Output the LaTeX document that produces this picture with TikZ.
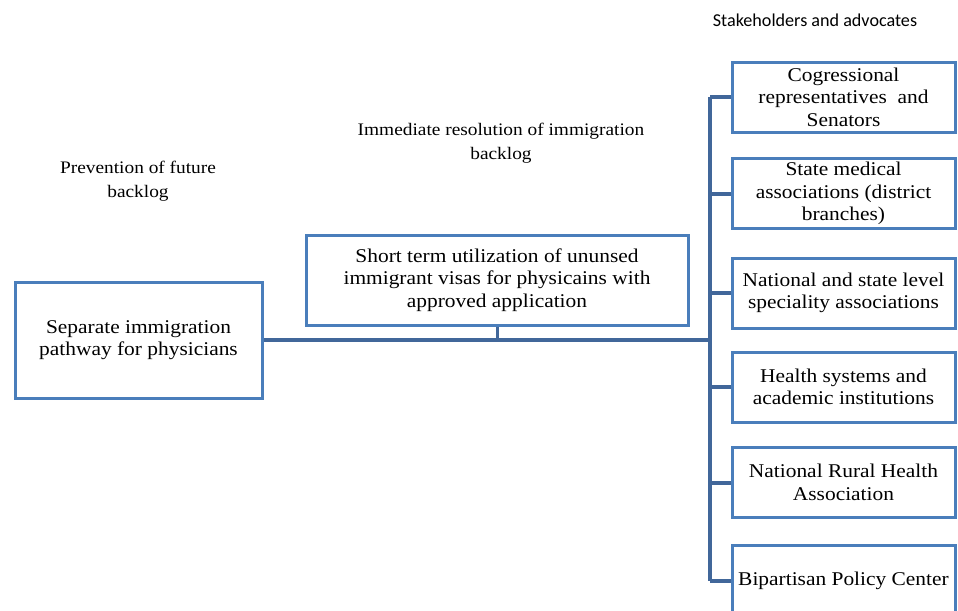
\documentclass[tikz,border=0pt]{standalone}
\usepackage{fontspec}
\setmainfont{Liberation Serif}[FakeStretch=1.1]
\newfontfamily\calib{Carlito}
\definecolor{boxcol}{HTML}{4A7EBB}
\definecolor{linecol}{HTML}{41679A}
\begin{document}
\begin{tikzpicture}[x=0.75pt,y=-0.75pt,
  box/.style={draw=boxcol,line width=2.25pt,fill=white,align=center,inner sep=0pt,
    font=\fontsize{14.6}{16.8}\selectfont},
  rbox/.style={box,minimum width=223*0.75pt,minimum height=70*0.75pt},
  conn/.style={draw=linecol,line width=3pt,line join=miter},
  note/.style={align=center,font=\fontsize{13.2}{18}\selectfont}]
\useasboundingbox (0,0) rectangle (958,611);
\clip (0,0) rectangle (958,611);
\coordinate (sp) at (710,0);
% nodes
\node[box,minimum width=247*0.75pt,minimum height=116*0.75pt] (L) at (138.5,340)
  {Separate immigration\\pathway for physicians};
\node[box,minimum width=382*0.75pt,minimum height=90*0.75pt] (M) at (497,280)
  {Short term utilization of ununsed\\immigrant visas for physicains with\\approved application};
\node[rbox] (R1) at (843.5,97) {Cogressional\\representatives\ \ and\\Senators};
\node[rbox] (R2) at (843.5,193.5) {State medical\\associations (district\\branches)};
\node[rbox] (R3) at (843.5,293) {National and state level\\speciality associations};
\node[rbox] (R4) at (843.5,387) {Health systems and\\academic institutions};
\node[rbox] (R5) at (843.5,482.5) {National Rural Health\\Association};
\node[rbox] (R6) at (843.5,580.5) {Bipartisan Policy Center};
% labels
\node[font=\calib\fontsize{13.6}{16}\selectfont] (T) at (815,20) {Stakeholders and advocates};
\node[note] (N1) at (138,181) {Prevention of future\\backlog};
\node[note] (N2) at (501,143) {Immediate resolution of immigration\\backlog};
% connectors
\draw[conn] (L.east) -- (L.east -| sp);
\draw[conn,line width=2.25pt] (M.south) -- (M.south |- L.east);
\draw[conn] (R1.west -| sp) -- (R6.west -| sp);
\foreach \r in {R1,R2,R3,R4,R5,R6}{
  \draw[conn] (\r.west -| sp) -- (\r.west);
}
\end{tikzpicture}
\end{document}
